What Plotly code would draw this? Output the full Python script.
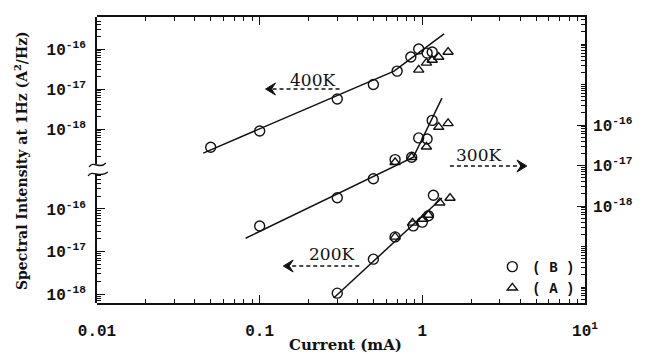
import plotly.graph_objects as go

# ---------------- data ----------------
# 400 K  (upper left axis)
i400_B = [0.05, 0.1, 0.3, 0.5, 0.7, 0.85, 0.95, 1.07, 1.15]
s400_B = [3.5e-19, 8.9e-19, 5.6e-18, 1.3e-17, 2.8e-17, 6.3e-17, 1.0e-16, 7.9e-17, 8.4e-17]
i400_A = [0.95, 1.06, 1.15, 1.26, 1.44]
s400_A = [3.0e-17, 4.5e-17, 5.3e-17, 6.3e-17, 8.4e-17]
i400_fit = [0.045, 0.67, 1.36]
s400_fit = [2.5e-19, 2.8e-17, 2.4e-16]

# 300 K  (right axis)
i300_B = [0.1, 0.3, 0.5, 0.68, 0.86, 0.95, 1.07, 1.15]
s300_B = [3.2e-19, 1.6e-18, 4.7e-18, 1.4e-17, 1.6e-17, 4.8e-17, 4.5e-17, 1.3e-16]
i300_A = [0.68, 0.86, 1.06, 1.26, 1.44]
s300_A = [1.2e-17, 1.6e-17, 2.9e-17, 8.9e-17, 1.1e-16]
i300_fit = [0.082, 0.88, 1.32]
s300_fit = [1.6e-19, 1.6e-17, 4.6e-16]

# 200 K  (lower left axis)
i200_B = [0.30, 0.50, 0.68, 0.88, 1.0, 1.09, 1.17]
s200_B = [1.05e-18, 6.6e-18, 2.2e-17, 4.0e-17, 4.9e-17, 6.9e-17, 2.1e-16]
i200_A = [0.68, 0.87, 1.01, 1.09, 1.28, 1.48]
s200_A = [2.2e-17, 4.7e-17, 5.8e-17, 7.2e-17, 1.4e-16, 1.8e-16]
i200_fit = [0.285, 1.32]
s200_fit = [8.1e-19, 1.8e-16]

x_tickvals = [0.01, 0.1, 1, 10]
x_ticktext = ["0.01", "0.1", "1", "10<sup>1</sup>"]
y_tickvals = [1e-18, 1e-17, 1e-16]
y_ticktext = ["10<sup>-18</sup>", "10<sup>-17</sup>", "10<sup>-16</sup>"]

# ---------------- geometry helpers (pixel -> paper) ----------------
L, R, T, B = 97, 592, 17, 303
W, H = R - L, B - T
def pxx(x):
    return (x - L) / W
def pxy(y):
    return (B - y) / H

INK = "#111111"
circ = dict(symbol="circle-open", size=10, color=INK, line=dict(width=1.4, color=INK))
tri = dict(symbol="triangle-up-open", size=9, color=INK, line=dict(width=1.4, color=INK))
fitline = dict(color=INK, width=1.5)

fig = go.Figure()
# fits
fig.add_trace(go.Scatter(x=i400_fit, y=s400_fit, mode="lines", line=fitline, yaxis="y2", showlegend=False))
fig.add_trace(go.Scatter(x=i300_fit, y=s300_fit, mode="lines", line=fitline, yaxis="y3", showlegend=False))
fig.add_trace(go.Scatter(x=i200_fit, y=s200_fit, mode="lines", line=fitline, yaxis="y", showlegend=False))
# points
fig.add_trace(go.Scatter(x=i400_B, y=s400_B, mode="markers", marker=circ, yaxis="y2", name="( B )", legendgroup="B", showlegend=True))
fig.add_trace(go.Scatter(x=i400_A, y=s400_A, mode="markers", marker=tri, yaxis="y2", name="( A )", legendgroup="A", showlegend=True))
fig.add_trace(go.Scatter(x=i300_B, y=s300_B, mode="markers", marker=circ, yaxis="y3", legendgroup="B", showlegend=False))
fig.add_trace(go.Scatter(x=i300_A, y=s300_A, mode="markers", marker=tri, yaxis="y3", legendgroup="A", showlegend=False))
fig.add_trace(go.Scatter(x=i200_B, y=s200_B, mode="markers", marker=circ, yaxis="y", legendgroup="B", showlegend=False))
fig.add_trace(go.Scatter(x=i200_A, y=s200_A, mode="markers", marker=tri, yaxis="y", legendgroup="A", showlegend=False))

tickfont = dict(family="Liberation Mono", size=16, color=INK, weight="bold")
minor_y = dict(ticks="inside", ticklen=4, tickcolor=INK, dtick="D1", showgrid=False)

fig.update_layout(
    width=645, height=354,
    margin=dict(l=L, r=645 - R, t=T, b=354 - B),
    paper_bgcolor="white", plot_bgcolor="rgba(0,0,0,0)",
    showlegend=True,
    legend=dict(x=pxx(498), y=pxy(251), xanchor="left", yanchor="top",
                bgcolor="rgba(0,0,0,0)", tracegroupgap=0, itemwidth=30,
                font=dict(family="Liberation Mono", size=14, color=INK, weight="bold")),
    xaxis=dict(type="log", range=[-2, 1], domain=[0, 1], anchor="y3",
               showline=True, linecolor=INK, linewidth=1.8, mirror="ticks",
               ticks="inside", ticklen=8, tickwidth=1.3, tickcolor=INK,
               tickvals=x_tickvals, ticktext=x_ticktext, tickfont=tickfont,
               ticklabelstandoff=12, showgrid=False, zeroline=False,
               minor=dict(ticks="inside", ticklen=4, tickcolor=INK, dtick="D1", showgrid=False)),
    yaxis=dict(type="log", range=[-18.21, -15.18], domain=[0, pxy(174)], anchor="x", side="left",
               showline=True, linecolor=INK, linewidth=1.8,
               ticks="inside", ticklen=8, tickwidth=1.3, tickcolor=INK,
               tickvals=y_tickvals, ticktext=y_ticktext, tickfont=tickfont,
               ticklabelstandoff=6, showgrid=False, zeroline=False, minor=minor_y),
    yaxis2=dict(type="log", range=[-18.875, -15.2], domain=[pxy(164), 1], anchor="x", side="left",
                showline=True, linecolor=INK, linewidth=1.8,
                ticks="inside", ticklen=8, tickwidth=1.3, tickcolor=INK,
                tickvals=y_tickvals, ticktext=y_ticktext, tickfont=tickfont,
                ticklabelstandoff=6, showgrid=False, zeroline=False, minor=minor_y),
    yaxis3=dict(type="log", range=[-20.395, -13.333], domain=[0, 1], anchor="x", side="right",
                showline=True, linecolor=INK, linewidth=1.8,
                ticks="inside", ticklen=8, tickwidth=1.3, tickcolor=INK,
                tickvals=y_tickvals, ticktext=y_ticktext, tickfont=tickfont,
                ticklabelstandoff=3, showgrid=False, zeroline=False, minor=minor_y),
)

# ---------------- text ----------------
ann = []
serif = "DejaVu Serif"
ann.append(dict(text="<b>Spectral Intensity at 1Hz (A<sup>2</sup>/Hz)</b>", textangle=-90,
                x=pxx(20), y=pxy(161), xref="paper", yref="paper", showarrow=False,
                xanchor="center", yanchor="middle",
                font=dict(family=serif, size=14, color=INK)))
ann.append(dict(text="<b>Current (mA)</b>", x=pxx(349), y=pxy(345), xref="paper", yref="paper",
                xanchor="center", yanchor="middle",
                showarrow=False, font=dict(family=serif, size=15, color=INK)))
for label, tx, ty in [("400K", 316, 80), ("300K", 484, 155), ("200K", 335, 254)]:
    ann.append(dict(text=label, x=pxx(tx), y=pxy(ty), xref="paper", yref="paper", showarrow=False,
                    xanchor="center", yanchor="middle",
                    font=dict(family=serif, size=17, color=INK)))
fig.update_layout(annotations=ann)

# ---------------- dashed arrows and axis-break marks ----------------
shapes = []
for x0, x1, y in [(343, 274, 89), (455, 528, 166), (363, 292, 266)]:
    shapes.append(dict(type="line", xref="paper", yref="paper", x0=pxx(x0), x1=pxx(x1),
                       y0=pxy(y), y1=pxy(y), line=dict(color=INK, width=1.6, dash="4px,3px")))

def head(hx, hy, d):
    pts = [(hx + 10 * d, hy - 6), (hx, hy), (hx + 10 * d, hy + 6), (hx + 6 * d, hy)]
    s = "M " + " L ".join(f"{pxx(a)},{pxy(b)}" for a, b in pts) + " Z"
    return s
for hx, hy, d in [(268, 89, 1), (533, 166, -1), (286, 266, 1)]:
    shapes.append(dict(type="path", xref="paper", yref="paper", path=head(hx, hy, d),
                       fillcolor=INK, line=dict(color=INK, width=1)))

def curve(pts):
    (a, b), (c, d), (e, f), (g, h) = pts
    return (f"M {pxx(a)},{pxy(b)} C {pxx(c)},{pxy(d)} {pxx(e)},{pxy(f)} {pxx(g)},{pxy(h)}")
shapes.append(dict(type="path", xref="paper", yref="paper", line=dict(color=INK, width=1.4),
                   path=curve([(89, 167), (93, 160), (100, 170), (106, 163)])))
shapes.append(dict(type="path", xref="paper", yref="paper", line=dict(color=INK, width=1.4),
                   path=curve([(88, 176), (92, 169), (100, 179), (108, 172)])))
fig.update_layout(shapes=shapes)

fig.write_html("out.html")
